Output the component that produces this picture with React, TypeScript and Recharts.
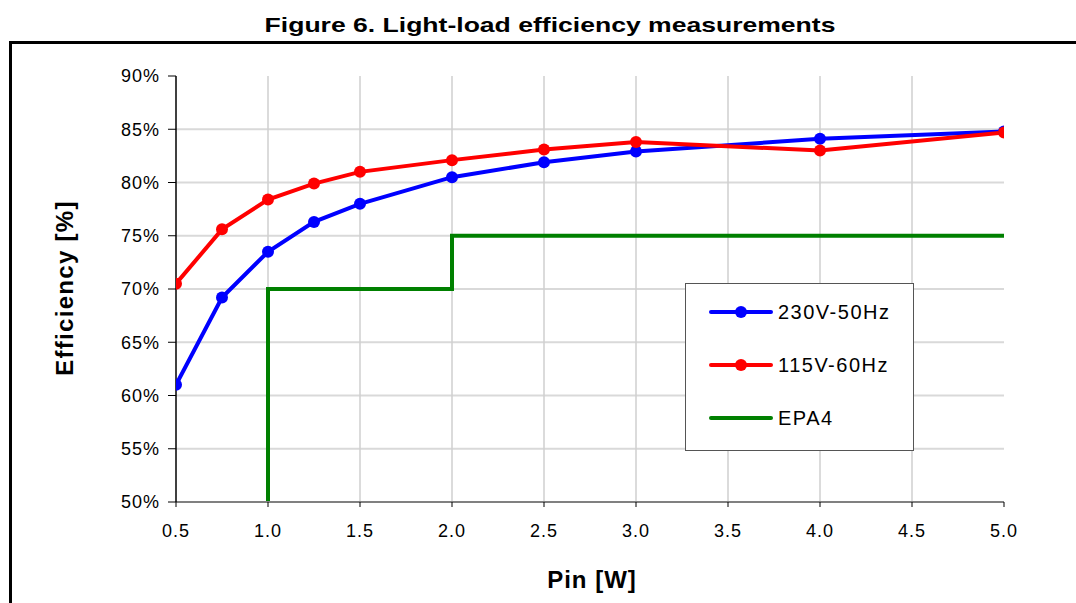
import React from 'react';
import { LineChart, Line, XAxis, YAxis, CartesianGrid, Legend } from 'recharts';

// ---- data ----
const pinW = [0.5, 0.75, 1.0, 1.25, 1.5, 2.0, 2.5, 3.0, 4.0, 5.0];
const eff230 = [61.0, 69.2, 73.5, 76.3, 78.0, 80.5, 81.9, 82.9, 84.1, 84.8];
const eff115 = [70.5, 75.6, 78.4, 79.9, 81.0, 82.1, 83.1, 83.8, 83.0, 84.7];
const epaPin = [1.0, 1.0, 2.0, 5.0];
const epaEff = [50, 70, 75, 75];

const xTicks = [0.5, 1.0, 1.5, 2.0, 2.5, 3.0, 3.5, 4.0, 4.5, 5.0];
const yTicks = [50, 55, 60, 65, 70, 75, 80, 85, 90];
const xGridValues = [1.0, 1.5, 2.0, 2.5, 3.0, 3.5, 4.0, 4.5];
const yGridValues = [55, 60, 65, 70, 75, 80, 85];

const legendOrder = ['230V-50Hz', '115V-60Hz', 'EPA4'];
const markerSeries = ['230V-50Hz', '115V-60Hz'];

const data230 = pinW.map((x, i) => ({ x, y: eff230[i] }));
const data115 = pinW.map((x, i) => ({ x, y: eff115[i] }));
const dataEpa = epaPin.map((x, i) => ({ x, y: epaEff[i] }));

const FONT = '"Liberation Sans", Arial, Helvetica, sans-serif';

const LegendBox = (props: any) => {
  const payload = (props.payload || []).slice().sort(
    (a: any, b: any) => legendOrder.indexOf(a.value) - legendOrder.indexOf(b.value)
  );
  return (
    <div
      style={{
        width: 229,
        height: 168,
        boxSizing: 'border-box',
        border: '1.5px solid #555',
        background: '#fff',
        paddingTop: 17,
        fontFamily: FONT,
      }}
    >
      {payload.map((entry: any) => (
        <div
          key={entry.value}
          style={{ display: 'flex', alignItems: 'center', height: 22, marginBottom: 31 }}
        >
          <svg width={92} height={22} style={{ display: 'block' }}>
            <line x1={25} x2={85} y1={11} y2={11} stroke={entry.color} strokeWidth={4} strokeLinecap="round" />
            {markerSeries.includes(entry.value) && <circle cx={55} cy={11} r={6} fill={entry.color} />}
          </svg>
          <span style={{ fontSize: 20, letterSpacing: 1.5, color: '#000', lineHeight: '22px' }}>{entry.value}</span>
        </div>
      ))}
    </div>
  );
};

export default function App() {
  return (
    <div
      style={{
        position: 'absolute',
        left: 0,
        top: 0,
        width: 1076,
        height: 603,
        overflow: 'hidden',
        background: '#fff',
        fontFamily: FONT,
      }}
    >
      <div
        style={{
          position: 'absolute',
          left: 9,
          top: 41,
          width: 1200,
          height: 700,
          border: '3px solid #000',
        }}
      />
      <div
        style={{
          position: 'absolute',
          left: 12,
          top: 14,
          width: 1076,
          textAlign: 'center',
          fontSize: 21,
          lineHeight: '21px',
          fontWeight: 'bold',
          color: '#000',
          whiteSpace: 'nowrap',
          transform: 'scaleX(1.264)',
          transformOrigin: '50% 50%',
        }}
      >
        Figure 6. Light-load efficiency measurements
      </div>
      <div style={{ position: 'absolute', left: 0, top: 0 }}>
        <LineChart
          width={1076}
          height={603}
          margin={{ top: 76, right: 72, bottom: 71, left: 100 }}
        >
          <CartesianGrid
            horizontal={true}
            vertical={false}
            horizontalValues={yGridValues}
            stroke="#d9d9d9"
            strokeWidth={2}
          />
          <CartesianGrid
            horizontal={false}
            vertical={true}
            verticalValues={xGridValues}
            stroke="#cfcfcf"
            strokeWidth={1.5}
          />
          <XAxis
            type="number"
            dataKey="x"
            domain={[0.5, 5]}
            ticks={xTicks}
            allowDataOverflow
            height={30}
            tickFormatter={(v: number) => v.toFixed(1)}
            axisLine={{ stroke: '#808080', strokeWidth: 2 }}
            tickLine={{ stroke: '#000', strokeWidth: 1 }}
            tickSize={5}
            tickMargin={17}
            tick={{ fontSize: 18, fill: '#000', fontFamily: FONT, letterSpacing: 1 }}
          />
          <YAxis
            type="number"
            dataKey="y"
            domain={[50, 90]}
            ticks={yTicks}
            allowDataOverflow
            width={76}
            tickFormatter={(v: number) => `${v}%`}
            axisLine={{ stroke: '#000', strokeWidth: 1.5 }}
            tickLine={{ stroke: '#000', strokeWidth: 1 }}
            tickSize={8}
            tickMargin={8}
            tick={{ fontSize: 18, fill: '#000', fontFamily: FONT, letterSpacing: 1 }}
          />
          <Legend
            layout="vertical"
            align="center"
            verticalAlign="middle"
            content={LegendBox}
            wrapperStyle={{ left: 685, top: 283, width: 229, height: 168 }}
          />
          <Line
            name="EPA4"
            data={dataEpa}
            dataKey="y"
            type="stepAfter"
            stroke="#008000"
            strokeWidth={4}
            dot={false}
            activeDot={false}
            isAnimationActive={false}
          />
          <Line
            name="230V-50Hz"
            data={data230}
            dataKey="y"
            type="linear"
            stroke="#0000ff"
            strokeWidth={4}
            dot={{ r: 6, fill: '#0000ff', stroke: 'none' }}
            activeDot={false}
            isAnimationActive={false}
          />
          <Line
            name="115V-60Hz"
            data={data115}
            dataKey="y"
            type="linear"
            stroke="#ff0000"
            strokeWidth={4}
            dot={{ r: 6, fill: '#ff0000', stroke: 'none' }}
            activeDot={false}
            isAnimationActive={false}
          />
        </LineChart>
      </div>
      <svg
        width={1076}
        height={603}
        style={{ position: 'absolute', left: 0, top: 0, pointerEvents: 'none' }}
      >
        <text
          x={592}
          y={588}
          textAnchor="middle"
          fontSize={24}
          fontWeight="bold"
          fontFamily={FONT}
          letterSpacing={1}
          fill="#000"
        >
          Pin [W]
        </text>
        <text
          transform="translate(73,288) rotate(-90)"
          x={0}
          y={0}
          textAnchor="middle"
          fontSize={24}
          fontWeight="bold"
          fontFamily={FONT}
          letterSpacing={1.3}
          fill="#000"
        >
          Efficiency [%]
        </text>
      </svg>
    </div>
  );
}
